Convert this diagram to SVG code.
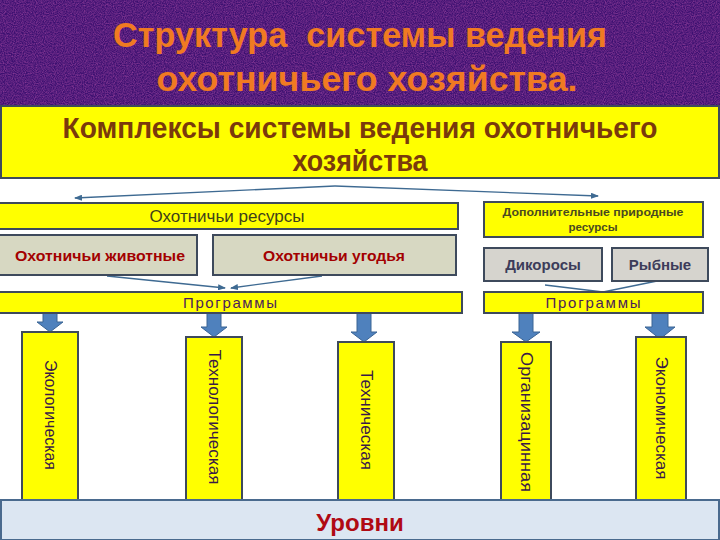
<svg xmlns="http://www.w3.org/2000/svg" width="720" height="540" viewBox="0 0 720 540">
<defs>
<marker id="ah" markerWidth="8" markerHeight="6" refX="7" refY="3" orient="auto" markerUnits="userSpaceOnUse">
<path d="M0,0 L8,3 L0,6 Z" fill="#3E6A92"/>
</marker>
<filter id="noise" x="0" y="0" width="100%" height="100%">
<feTurbulence type="fractalNoise" baseFrequency="0.9" numOctaves="2" seed="3" result="n"/>
<feColorMatrix type="matrix" values="0 0 0 0 0.55  0 0 0 0 0.1  0 0 0 0 0.45  0 0 0 0.9 -0.25" in="n" result="c"/>
<feComposite in="c" in2="SourceGraphic" operator="in"/>
</filter>
<style>
.y{fill:#FFFF00;stroke:#3E4A5C;stroke-width:2}
.g{fill:#D7D8C2;stroke:#3E4A5C;stroke-width:2}
.g2{fill:#D6D4CE;stroke:#3E4A5C;stroke-width:2}
.t{font-family:"Liberation Sans",Arial,sans-serif;text-anchor:middle}
.v{font-family:"Liberation Sans",Arial,sans-serif;font-size:17px;fill:#3A1A48;text-anchor:middle;dominant-baseline:central}
.ar{fill:#4F81BD;stroke:#3A6494;stroke-width:1}
.cn{fill:none;stroke:#3E6A92;stroke-width:1.3}
</style>
</defs>
<rect x="0" y="0" width="720" height="540" fill="#FFFFFF"/>
<g id="header">
<rect x="0" y="0" width="720" height="106" fill="#3C1070"/>
<rect x="0" y="0" width="720" height="106" fill="#3C1070" filter="url(#noise)"/>
<text class="t" x="360" y="47" font-family="'Open Sans',sans-serif" font-weight="700" font-size="35" fill="#F07A22" textLength="494" lengthAdjust="spacingAndGlyphs" style="white-space:pre">Структура  системы ведения</text>
<text class="t" x="367" y="91" font-family="'Open Sans',sans-serif" font-weight="700" font-size="35" fill="#F07A22" textLength="421" lengthAdjust="spacingAndGlyphs">охотничьего хозяйства.</text>
</g>
<g id="complexes">
<rect x="1" y="106" width="718" height="72" fill="#FFFF00" stroke="#3E4A5C" stroke-width="2"/>
<text class="t" x="360" y="138" font-family="'Open Sans',sans-serif" font-weight="700" font-size="29" fill="#7A3A0C" textLength="595" lengthAdjust="spacingAndGlyphs">Комплексы системы ведения охотничьего</text>
<text class="t" x="360" y="171" font-family="'Open Sans',sans-serif" font-weight="700" font-size="29" fill="#7A3A0C" textLength="135" lengthAdjust="spacingAndGlyphs">хозяйства</text>
</g>
<g id="connectors">
<line class="cn" x1="335" y1="186" x2="75" y2="198" marker-end="url(#ah)"/>
<line class="cn" x1="335" y1="186" x2="598" y2="196" marker-end="url(#ah)"/>
<line class="cn" x1="107" y1="276" x2="225" y2="288" marker-end="url(#ah)"/>
<line class="cn" x1="322" y1="276" x2="231" y2="288" marker-end="url(#ah)"/>
<line class="cn" x1="545" y1="285" x2="603" y2="292"/>
<line class="cn" x1="662" y1="280" x2="603" y2="292"/>
<path class="ar" d="M43,313 H57 V322 H63 L50,332 L37,322 H43 Z"/>
<path class="ar" d="M207,313 H221 V327 H227 L214,337 L201,327 H207 Z"/>
<path class="ar" d="M357,313 H371 V332 H377 L364,342 L351,332 H357 Z"/>
<path class="ar" d="M519,313 H533 V332 H540 L526,342 L512,332 H519 Z"/>
<path class="ar" d="M652,313 H668 V327 H675 L660,339 L645,327 H652 Z"/>
</g>
<g id="res-hunt">
<rect class="y" x="-2" y="203" width="460" height="26"/>
<text class="t" x="227" y="222" font-size="16" fill="#3F3F1A" textLength="155" lengthAdjust="spacingAndGlyphs">Охотничьи ресурсы</text>
</g>
<g id="res-extra">
<rect class="y" x="484" y="202" width="219" height="35"/>
<text class="t" x="593" y="216" font-size="11.5" font-weight="700" fill="#4A4A20" textLength="181" lengthAdjust="spacingAndGlyphs">Дополнительные природные</text>
<text class="t" x="593" y="231" font-size="11.5" font-weight="700" fill="#4A4A20">ресурсы</text>
</g>
<g id="animals">
<rect class="g" x="-2" y="235" width="199" height="40"/>
<text class="t" x="100" y="261" font-size="15.5" font-weight="700" fill="#A30000" textLength="170" lengthAdjust="spacingAndGlyphs">Охотничьи животные</text>
</g>
<g id="lands">
<rect class="g" x="213" y="235" width="243" height="40"/>
<text class="t" x="334" y="261" font-size="15.5" font-weight="700" fill="#A30000" textLength="142" lengthAdjust="spacingAndGlyphs">Охотничьи угодья</text>
</g>
<g id="wild">
<rect class="g2" x="484" y="248" width="118" height="33"/>
<text class="t" x="543" y="270" font-size="15" font-weight="700" fill="#3C3C5A">Дикоросы</text>
</g>
<g id="fish">
<rect class="g2" x="612" y="248" width="96" height="33"/>
<text class="t" x="660" y="270" font-size="15" font-weight="700" fill="#3C3C5A">Рыбные</text>
</g>
<g id="prog-left">
<rect class="y" x="-2" y="292" width="464" height="21"/>
<text class="t" x="230" y="308" font-size="15" fill="#4A1E5A" textLength="94" lengthAdjust="spacing">Программы</text>
</g>
<g id="prog-right">
<rect class="y" x="484" y="292" width="219" height="21"/>
<text class="t" x="593" y="308" font-size="15" fill="#4A1E5A" textLength="95" lengthAdjust="spacing">Программы</text>
</g>
<g id="eco">
<rect class="y" x="22" y="332" width="56" height="168"/>
<text class="v" transform="translate(50,415) rotate(90)" textLength="110" lengthAdjust="spacingAndGlyphs">Экологическая</text>
</g>
<g id="tech-log">
<rect class="y" x="186" y="337" width="56" height="163"/>
<text class="v" transform="translate(214,417) rotate(90)" textLength="135" lengthAdjust="spacingAndGlyphs">Технологическая</text>
</g>
<g id="tech">
<rect class="y" x="338" y="342" width="56" height="158"/>
<text class="v" transform="translate(366,420) rotate(90)" textLength="100" lengthAdjust="spacingAndGlyphs">Техническая</text>
</g>
<g id="org">
<rect class="y" x="501" y="342" width="50" height="158"/>
<text class="v" transform="translate(526,422) rotate(90)" textLength="140" lengthAdjust="spacingAndGlyphs">Организацинная</text>
</g>
<g id="econ">
<rect class="y" x="636" y="337" width="50" height="163"/>
<text class="v" transform="translate(661,418) rotate(90)" textLength="123" lengthAdjust="spacingAndGlyphs">Экономическая</text>
</g>
<g id="levels">
<rect x="1" y="500" width="718" height="40" fill="#DCE6F2" stroke="#4A6A8E" stroke-width="2"/>
<text class="t" x="360" y="531" font-size="24" font-weight="700" fill="#B00A14">Уровни</text>
</g>
</svg>
